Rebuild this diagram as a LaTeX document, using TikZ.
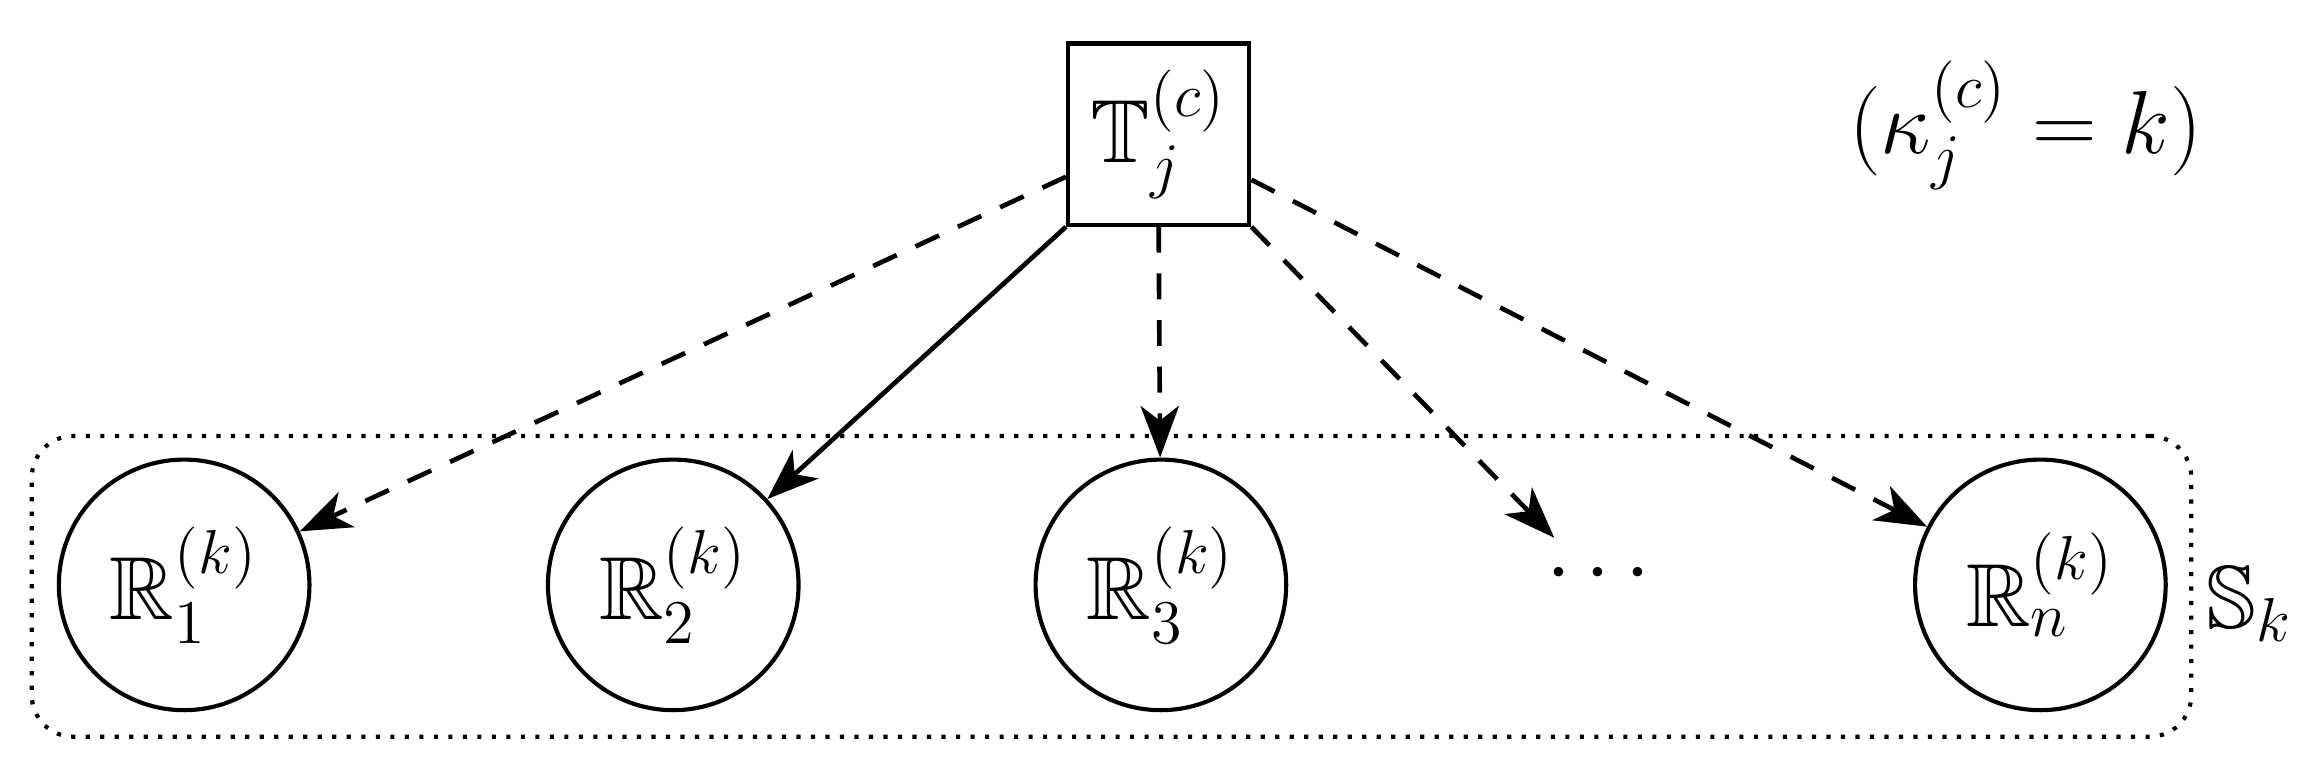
\documentclass[tikz,border=0pt]{standalone}
\usepackage{amssymb}
\usetikzlibrary{arrows.meta}
\begin{document}
\begin{tikzpicture}[x=0.01cm,y=-0.01cm,
  rnode/.style={circle,draw,line width=0.8pt,minimum size=1.7cm,inner sep=0pt,font=\LARGE},
  tnode/.style={rectangle,draw,line width=0.8pt,minimum size=1.23cm,inner sep=0pt,font=\LARGE},
  arr/.style={-{Stealth[length=3.5mm,width=2.6mm,inset=1mm]},line width=0.9pt},
  dsh/.style={arr,dash pattern=on 5pt off 4pt}]
\useasboundingbox (0,0) rectangle (1568,526);
\node[draw,dotted,line width=0.8pt,rounded corners=8pt,minimum width=14.65cm,minimum height=2.04cm] (S) at (754.5,398) {};
\node[tnode] (T) at (786.5,91) {$\mathbb{T}_j^{(c)}$};
\node[rnode] (R1) at (125,397) {$\mathbb{R}_1^{(k)}$};
\node[rnode] (R2) at (457,397) {$\mathbb{R}_2^{(k)}$};
\node[rnode] (R3) at (788,397) {$\mathbb{R}_3^{(k)}$};
\node[font=\LARGE] (D) at (1085,390) {$\cdots$};
\node[rnode] (Rn) at (1385,397) {$\mathbb{R}_n^{(k)}$};
\node[font=\LARGE] (Sk) at (1527,410) {$\mathbb{S}_k$};
\node[font=\LARGE] (K) at (1375,85) {$(\kappa_j^{(c)}=k)$};
\coordinate (d) at (1055,365);
\draw[dsh] (T.west |- 0,120) -- (R1);
\draw[arr] (T.south west) -- (R2);
\draw[dsh] (T.south) -- (R3);
\draw[dsh] (T.south east) -- (d);
\draw[dsh] (T.east |- 0,122) -- (Rn);
\end{tikzpicture}
\end{document}
